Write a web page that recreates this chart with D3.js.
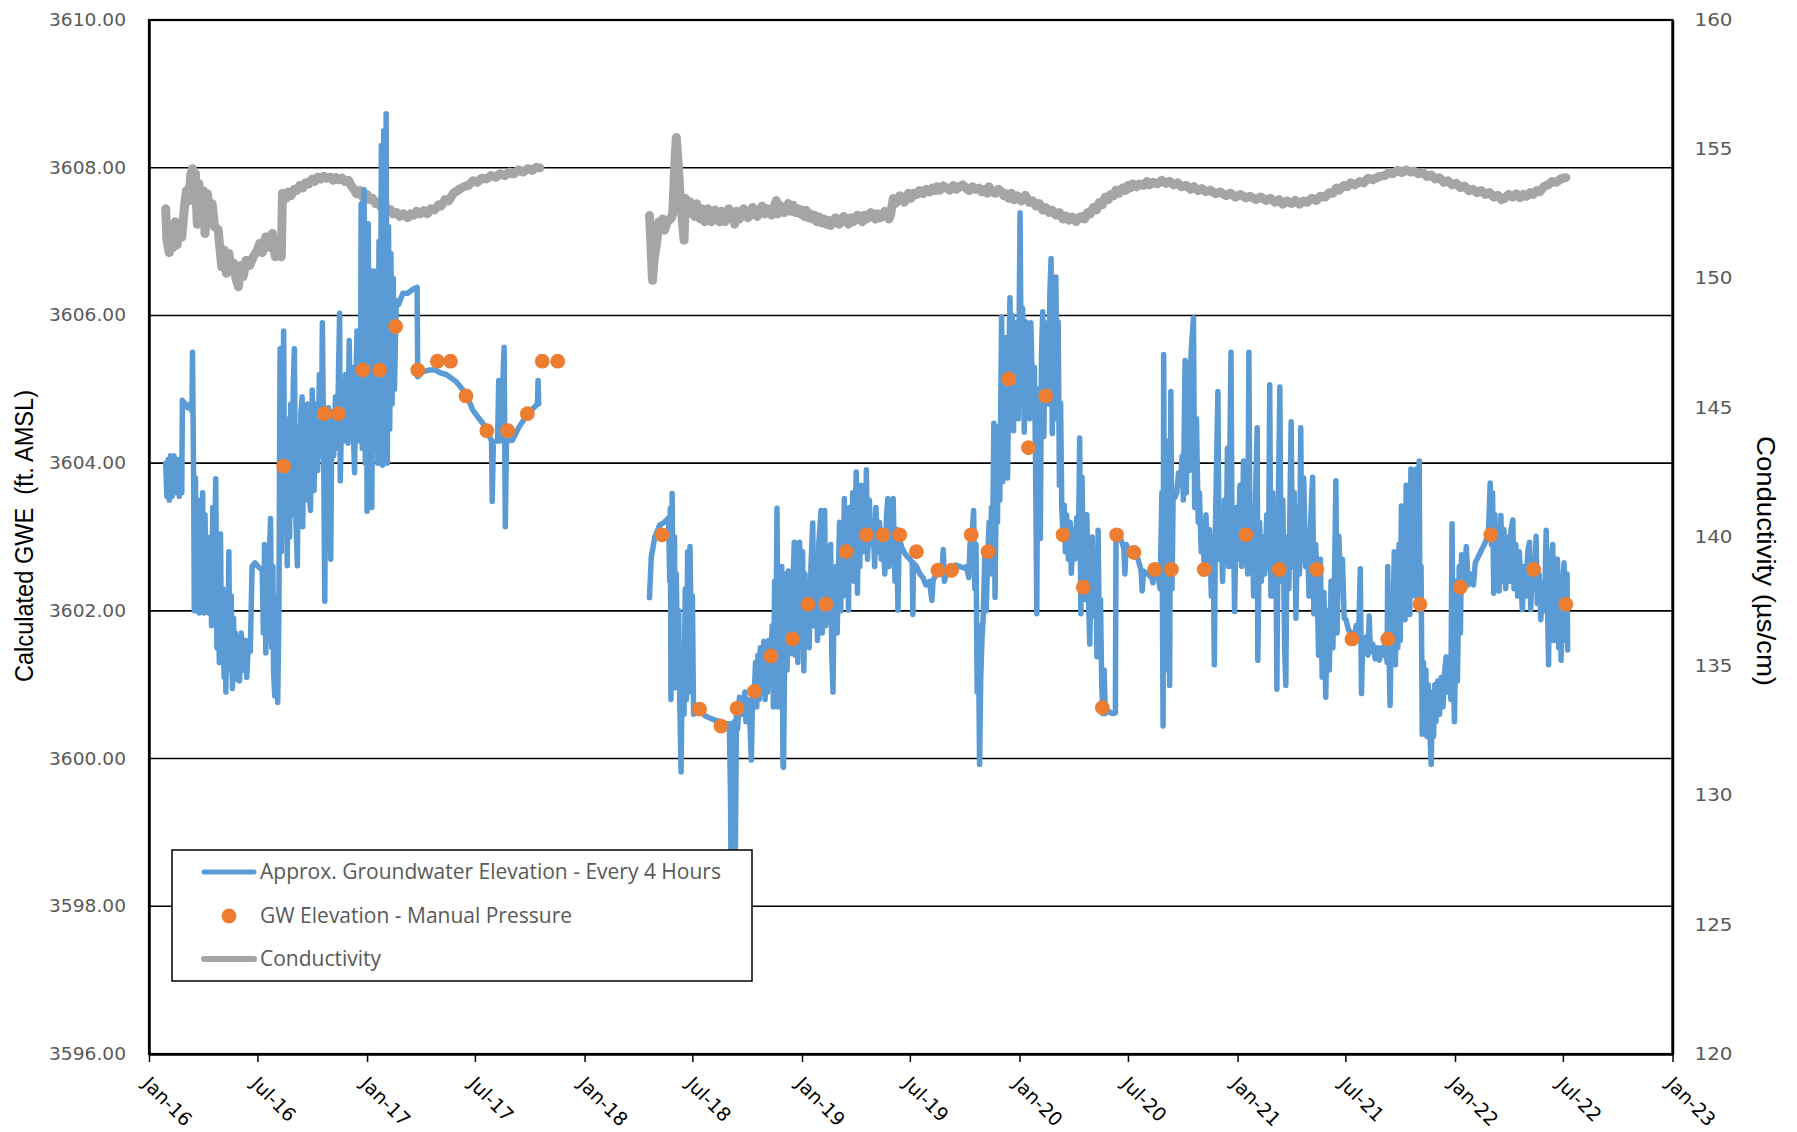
<!DOCTYPE html>
<html><head><meta charset="utf-8">
<script src="https://cdn.jsdelivr.net/npm/d3@7"></script>
<style>body{margin:0;background:#fff;} svg{display:block;}</style>
</head><body><svg id="chart" width="1797" height="1132"></svg>
<script>
// ---------- DATA ----------
const xTickLabels = ["Jan-16","Jul-16","Jan-17","Jul-17","Jan-18","Jul-18","Jan-19","Jul-19","Jan-20","Jul-20","Jan-21","Jul-21","Jan-22","Jul-22","Jan-23"];
const xTickDates = ["2016-01-01","2016-07-01","2017-01-01","2017-07-01","2018-01-01","2018-07-01","2019-01-01","2019-07-01","2020-01-01","2020-07-01","2021-01-01","2021-07-01","2022-01-01","2022-07-01","2023-01-01"];
const leftTicks = [3596,3598,3600,3602,3604,3606,3608,3610];
const rightTicks = [120,125,130,135,140,145,150,155,160];
const seriesNames = ["Approx. Groundwater Elevation - Every 4 Hours","GW Elevation - Manual Pressure","Conductivity"];

// Approx. Groundwater Elevation (ft AMSL), logger record, first deployment
const gweBlock1 = [
["2016-01-29",3604.0],["2016-01-31",3603.55],["2016-02-02",3604.05],["2016-02-04",3603.5],["2016-02-06",3604.1],["2016-02-09",3603.55],["2016-02-12",3604.1],["2016-02-15",3603.6],["2016-02-18",3604.05],["2016-02-21",3603.55],["2016-02-24",3604.0],["2016-02-25",3603.6],
["2016-02-26",3604.85],["2016-03-02",3604.8],["2016-03-06",3604.75],["2016-03-10",3604.8],["2016-03-13",3604.7],["2016-03-14",3605.5],["2016-03-16",3603.7],["2016-03-17",3602.0],
["2016-03-19",3603.8],["2016-03-21",3602.2],["2016-03-23",3603.5],["2016-03-25",3601.97],["2016-03-27",3603.3],["2016-03-29",3602.0],["2016-03-31",3603.6],["2016-04-02",3601.97],["2016-04-04",3603.3],["2016-04-06",3602.1],["2016-04-08",3602.9],["2016-04-10",3601.97],["2016-04-13",3603.0],["2016-04-15",3601.8],["2016-04-17",3603.4],["2016-04-19",3602.2],["2016-04-22",3603.79],["2016-04-24",3601.5],["2016-04-26",3602.5],["2016-04-28",3601.3],
["2016-04-30",3603.04],["2016-05-02",3601.3],["2016-05-04",3602.3],["2016-05-06",3601.1],["2016-05-08",3602.0],["2016-05-09",3600.9],["2016-05-11",3602.2],["2016-05-12",3601.2],["2016-05-14",3602.8],["2016-05-16",3601.2],["2016-05-18",3602.2],["2016-05-20",3600.95],["2016-05-22",3601.9],["2016-05-23",3601.06],
["2016-05-25",3601.7],["2016-05-27",3601.1],["2016-05-29",3601.65],["2016-06-01",3601.05],["2016-06-04",3601.7],["2016-06-07",3601.2],["2016-06-10",3601.6],["2016-06-13",3601.1],["2016-06-16",3601.6],["2016-06-19",3601.45],
["2016-06-22",3602.6],["2016-06-27",3602.65],["2016-07-02",3602.6],["2016-07-09",3602.55],["2016-07-11",3601.7],["2016-07-13",3602.9],["2016-07-15",3601.43],["2016-07-17",3602.5],["2016-07-19",3601.6],["2016-07-21",3602.7],["2016-07-23",3603.25],["2016-07-25",3601.5],["2016-07-27",3602.6],["2016-07-28",3601.2],["2016-07-30",3600.85],["2016-08-01",3602.2],["2016-08-03",3601.0],["2016-08-04",3600.76],["2016-08-06",3602.0],
["2016-08-08",3605.55],["2016-08-10",3602.8],["2016-08-12",3604.4],["2016-08-14",3605.79],["2016-08-16",3603.2],["2016-08-18",3604.6],["2016-08-20",3602.61],["2016-08-22",3604.3],["2016-08-24",3603.0],["2016-08-26",3604.8],["2016-08-28",3603.3],["2016-08-30",3605.0],["2016-09-01",3605.55],["2016-09-03",3603.4],["2016-09-06",3602.61],["2016-09-08",3604.5],["2016-09-10",3603.2],["2016-09-12",3604.7],["2016-09-14",3604.9],["2016-09-15",3603.14],["2016-09-17",3604.6],["2016-09-20",3603.5],["2016-09-23",3604.8],["2016-09-26",3603.6],["2016-09-28",3603.36],["2016-10-01",3604.99],["2016-10-04",3603.63],["2016-10-07",3604.8],["2016-10-10",3603.9],["2016-10-13",3605.2],["2016-10-16",3604.1],["2016-10-18",3605.9],["2016-10-20",3604.3],["2016-10-22",3602.13],["2016-10-24",3604.6],["2016-10-26",3604.05],["2016-10-28",3604.75],["2016-10-30",3604.1],["2016-11-01",3602.7],["2016-11-03",3604.7],["2016-11-06",3604.1],["2016-11-09",3604.9],["2016-11-12",3604.2],["2016-11-14",3605.2],["2016-11-16",3606.03],["2016-11-17",3603.76],["2016-11-20",3604.9],["2016-11-23",3604.3],["2016-11-26",3605.2],["2016-11-30",3604.27],["2016-12-02",3605.66],["2016-12-04",3604.5],["2016-12-07",3605.3],["2016-12-09",3604.4],["2016-12-11",3603.87],["2016-12-13",3605.0],["2016-12-15",3605.79],["2016-12-17",3604.3],["2016-12-19",3605.2],["2016-12-21",3604.6],
["2016-12-22",3607.51],["2016-12-24",3604.2],["2016-12-26",3606.3],["2016-12-27",3607.7],["2016-12-29",3604.0],["2016-12-31",3606.8],["2017-01-01",3603.35],["2017-01-03",3607.24],["2017-01-05",3603.7],["2017-01-07",3606.0],["2017-01-09",3603.4],["2017-01-11",3606.6],["2017-01-13",3604.2],["2017-01-15",3605.6],["2017-01-17",3606.6],["2017-01-19",3604.0],["2017-01-21",3607.0],["2017-01-23",3604.3],["2017-01-25",3608.3],["2017-01-27",3603.97],["2017-01-29",3608.5],["2017-01-31",3604.5],["2017-02-02",3608.73],["2017-02-04",3604.0],["2017-02-06",3607.2],["2017-02-08",3604.46],["2017-02-10",3606.84],["2017-02-12",3604.8],["2017-02-14",3606.5],["2017-02-16",3605.0],["2017-02-19",3606.2],
["2017-02-23",3606.15],["2017-03-02",3606.3],["2017-03-10",3606.3],["2017-03-18",3606.35],["2017-03-26",3606.38],["2017-03-27",3605.17],
["2017-04-05",3605.24],["2017-04-15",3605.26],["2017-04-25",3605.26],["2017-05-05",3605.22],["2017-05-14",3605.2],["2017-05-31",3605.1],["2017-06-16",3604.94],["2017-06-28",3604.71],["2017-07-15",3604.53],["2017-07-26",3604.35],["2017-07-29",3604.3],["2017-07-30",3603.48],["2017-08-01",3604.29],["2017-08-08",3604.3],["2017-08-10",3605.12],["2017-08-12",3604.3],["2017-08-16",3604.9],["2017-08-19",3605.57],["2017-08-21",3603.14],["2017-08-23",3604.3],["2017-09-02",3604.31],["2017-09-13",3604.49],["2017-09-28",3604.67],["2017-10-14",3604.8],["2017-10-15",3605.12],["2017-10-16",3604.8]
];

// Approx. Groundwater Elevation (ft AMSL), logger record, second deployment
const gweBlock2 = [
["2018-04-20",3602.18],["2018-04-23",3602.73],["2018-04-29",3603.0],["2018-05-07",3603.16],["2018-05-15",3603.2],["2018-05-22",3603.26],["2018-05-24",3602.4],["2018-05-25",3603.39],["2018-05-26",3600.8],["2018-05-28",3603.59],["2018-05-30",3601.5],["2018-06-01",3603.0],["2018-06-02",3600.96],["2018-06-04",3602.5],["2018-06-06",3601.3],["2018-06-08",3602.0],["2018-06-10",3600.7],["2018-06-12",3599.82],["2018-06-14",3601.2],["2018-06-17",3600.6],["2018-06-19",3602.3],["2018-06-21",3600.8],["2018-06-23",3602.8],["2018-06-25",3600.9],["2018-06-27",3602.87],["2018-06-29",3601.69],["2018-07-01",3602.2],["2018-07-03",3600.6],["2018-07-05",3600.7],
["2018-07-13",3600.67],["2018-07-22",3600.58],["2018-07-30",3600.55],["2018-08-08",3600.52],["2018-08-18",3600.5],["2018-08-26",3600.47],["2018-09-01",3600.47],["2018-09-03",3599.5],["2018-09-04",3598.3],["2018-09-06",3600.2],["2018-09-07",3598.4],["2018-09-09",3600.5],["2018-09-11",3598.6],["2018-09-13",3600.68],["2018-09-15",3600.4],["2018-09-18",3600.83],["2018-09-22",3600.6],["2018-09-25",3600.7],["2018-09-27",3600.9],["2018-09-29",3600.5],["2018-10-02",3600.8],["2018-10-05",3600.6],["2018-10-08",3599.98],["2018-10-10",3600.9],["2018-10-13",3600.91],["2018-10-15",3601.3],["2018-10-17",3600.7],["2018-10-19",3601.4],["2018-10-21",3600.8],["2018-10-23",3601.5],["2018-10-25",3600.9],["2018-10-27",3601.3],["2018-10-29",3601.59],["2018-10-31",3600.8],["2018-11-02",3601.5],["2018-11-04",3600.9],["2018-11-06",3601.6],["2018-11-08",3601.0],["2018-11-10",3601.39],["2018-11-12",3601.8],["2018-11-14",3600.7],["2018-11-16",3602.4],["2018-11-18",3601.1],["2018-11-20",3603.39],["2018-11-22",3600.7],["2018-11-24",3602.0],["2018-11-26",3601.2],["2018-11-28",3602.6],["2018-11-30",3599.9],["2018-12-01",3599.88],["2018-12-03",3601.5],["2018-12-05",3602.5],["2018-12-07",3601.2],["2018-12-09",3602.54],["2018-12-11",3601.5],["2018-12-13",3602.2],["2018-12-15",3601.42],["2018-12-17",3602.4],["2018-12-19",3602.93],["2018-12-21",3601.4],["2018-12-23",3602.6],["2018-12-25",3601.3],["2018-12-28",3602.93],["2018-12-30",3601.6],
["2019-01-02",3602.8],["2019-01-04",3601.19],["2019-01-06",3602.5],["2019-01-08",3601.7],["2019-01-11",3602.3],["2019-01-13",3601.5],["2019-01-16",3602.6],["2019-01-19",3603.19],["2019-01-21",3601.8],["2019-01-24",3602.8],["2019-01-27",3601.6],["2019-01-29",3602.9],["2019-02-02",3603.36],["2019-02-04",3601.7],["2019-02-06",3602.4],["2019-02-08",3603.36],["2019-02-10",3601.8],["2019-02-13",3602.5],["2019-02-16",3602.0],["2019-02-18",3602.9],["2019-02-20",3601.4],["2019-02-22",3600.9],["2019-02-24",3602.3],["2019-02-27",3602.6],["2019-03-01",3601.7],["2019-03-05",3603.2],["2019-03-07",3602.0],["2019-03-09",3603.0],["2019-03-11",3602.2],["2019-03-13",3603.52],["2019-03-15",3602.3],["2019-03-18",3603.3],["2019-03-20",3602.01],["2019-03-22",3603.4],["2019-03-25",3602.5],["2019-03-27",3603.6],["2019-03-29",3602.4],["2019-04-02",3603.88],["2019-04-04",3602.24],["2019-04-06",3603.5],["2019-04-08",3602.6],["2019-04-10",3603.7],["2019-04-13",3602.8],["2019-04-15",3603.6],["2019-04-17",3602.9],["2019-04-19",3603.91],["2019-04-21",3602.7],["2019-04-24",3603.5],["2019-04-27",3602.9],["2019-04-30",3603.2],["2019-05-03",3602.6],["2019-05-05",3603.4],["2019-05-08",3602.8],["2019-05-11",3603.2],["2019-05-14",3602.7],["2019-05-17",3603.0],["2019-05-20",3602.5],["2019-05-23",3603.3],["2019-05-25",3603.52],["2019-05-27",3602.6],["2019-05-30",3603.2],["2019-06-01",3602.7],["2019-06-03",3603.52],["2019-06-06",3602.4],["2019-06-09",3603.1],["2019-06-11",3602.01],["2019-06-13",3603.0],
["2019-06-17",3602.87],["2019-06-21",3602.8],["2019-06-25",3602.75],["2019-07-01",3602.7],["2019-07-05",3602.65],["2019-07-06",3601.95],["2019-07-07",3602.65],["2019-07-12",3602.6],["2019-07-18",3602.5],["2019-07-23",3602.45],["2019-07-28",3602.35],["2019-08-03",3602.4],["2019-08-07",3602.14],["2019-08-09",3602.41],["2019-08-14",3602.5],["2019-08-20",3602.55],["2019-08-24",3602.5],["2019-08-26",3602.83],["2019-08-28",3602.4],["2019-09-02",3602.55],["2019-09-09",3602.6],["2019-09-16",3602.62],["2019-09-23",3602.6],["2019-09-30",3602.58],["2019-10-04",3602.6],["2019-10-08",3602.45],["2019-10-10",3602.9],["2019-10-14",3603.1],["2019-10-16",3603.36],["2019-10-18",3602.3],["2019-10-20",3602.9],["2019-10-22",3600.9],["2019-10-24",3601.8],["2019-10-26",3599.92],["2019-10-28",3601.1],["2019-10-30",3601.62],["2019-11-01",3601.9],["2019-11-04",3602.8],["2019-11-06",3602.0],["2019-11-09",3602.8],["2019-11-11",3603.2],["2019-11-13",3602.5],["2019-11-15",3603.4],["2019-11-17",3603.0],["2019-11-19",3604.54],["2019-11-21",3602.18],["2019-11-23",3603.8],["2019-11-25",3603.2],["2019-11-27",3604.5],["2019-11-29",3603.5],
["2019-12-02",3605.98],["2019-12-04",3603.75],["2019-12-06",3605.0],["2019-12-08",3604.0],["2019-12-10",3605.7],["2019-12-12",3603.8],["2019-12-14",3605.2],["2019-12-16",3606.24],["2019-12-18",3604.87],["2019-12-20",3606.0],["2019-12-22",3604.44],["2019-12-24",3605.9],["2019-12-26",3604.9],["2019-12-28",3605.8],["2019-12-30",3604.6],["2020-01-02",3607.39],["2020-01-04",3605.0],["2020-01-06",3606.1],["2020-01-07",3605.9],["2020-01-09",3604.42],["2020-01-12",3605.91],["2020-01-14",3605.08],["2020-01-16",3605.8],["2020-01-18",3604.6],["2020-01-20",3605.9],["2020-01-23",3604.9],["2020-01-26",3605.3],["2020-01-28",3604.0],["2020-01-30",3601.96],["2020-02-01",3605.0],["2020-02-03",3604.4],["2020-02-05",3602.98],["2020-02-07",3605.5],["2020-02-09",3606.05],["2020-02-11",3604.36],["2020-02-13",3605.9],["2020-02-15",3604.9],["2020-02-17",3605.6],["2020-02-19",3604.8],["2020-02-21",3606.3],["2020-02-23",3606.77],["2020-02-25",3604.4],["2020-02-27",3605.8],["2020-02-29",3604.6],["2020-03-02",3606.52],["2020-03-04",3604.9],["2020-03-06",3605.91],["2020-03-08",3603.7],["2020-03-10",3604.81],["2020-03-12",3603.4],
["2020-03-14",3603.0],["2020-03-16",3603.43],["2020-03-18",3602.8],["2020-03-20",3603.3],["2020-03-23",3602.7],["2020-03-26",3603.2],["2020-03-28",3602.51],["2020-03-31",3603.1],["2020-04-03",3602.7],["2020-04-06",3603.26],["2020-04-09",3602.9],["2020-04-11",3604.34],["2020-04-13",3601.96],["2020-04-15",3603.81],["2020-04-17",3602.7],["2020-04-19",3603.0],["2020-04-21",3602.15],["2020-04-23",3603.3],["2020-04-25",3602.4],["2020-04-28",3601.55],["2020-04-30",3602.5],["2020-05-02",3603.0],["2020-05-05",3601.93],["2020-05-08",3602.71],["2020-05-10",3601.38],["2020-05-12",3603.09],["2020-05-14",3601.6],["2020-05-16",3602.15],["2020-05-18",3601.0],["2020-05-20",3600.61],["2020-05-22",3601.2],["2020-05-24",3600.61],["2020-05-28",3600.65],["2020-06-02",3600.62],["2020-06-06",3600.61],["2020-06-10",3600.62],
["2020-06-11",3603.04],["2020-06-15",3603.0],["2020-06-20",3602.95],["2020-06-24",3602.85],["2020-06-26",3602.5],["2020-06-28",3602.9],["2020-07-03",3602.8],["2020-07-11",3602.76],["2020-07-18",3602.7],["2020-07-23",3602.55],["2020-07-25",3602.27],["2020-07-27",3602.54],["2020-08-03",3602.5],["2020-08-10",3602.45],["2020-08-12",3602.38],["2020-08-15",3602.55],["2020-08-20",3602.5],["2020-08-24",3602.3],["2020-08-27",3603.6],["2020-08-29",3600.44],["2020-08-30",3605.47],["2020-09-01",3601.5],["2020-09-03",3604.3],["2020-09-05",3601.2],["2020-09-07",3603.6],["2020-09-09",3600.99],["2020-09-11",3604.97],["2020-09-13",3602.3],["2020-09-15",3603.6],["2020-09-18",3603.54],["2020-09-21",3603.6],["2020-09-24",3603.87],["2020-09-27",3603.7],["2020-09-30",3604.1],["2020-10-02",3603.5],["2020-10-05",3605.39],["2020-10-07",3603.6],["2020-10-09",3605.36],["2020-10-12",3603.9],["2020-10-15",3605.5],["2020-10-19",3605.97],["2020-10-21",3603.4],["2020-10-24",3604.6],["2020-10-27",3603.2],["2020-10-29",3603.6],["2020-11-01",3602.8],["2020-11-04",3603.2],["2020-11-06",3602.56],["2020-11-09",3603.3],["2020-11-12",3602.6],["2020-11-15",3603.1],["2020-11-18",3602.2],["2020-11-21",3603.0],["2020-11-23",3601.27],["2020-11-25",3603.2],["2020-11-29",3604.97],["2020-12-01",3602.7],["2020-12-04",3603.1],["2020-12-07",3602.4],["2020-12-10",3603.5],["2020-12-13",3602.8],["2020-12-15",3604.2],["2020-12-17",3602.6],["2020-12-21",3605.5],["2020-12-23",3602.6],["2020-12-25",3603.3],["2020-12-27",3601.99],["2020-12-30",3603.4],
["2021-01-02",3602.7],["2021-01-05",3603.7],["2021-01-08",3602.6],["2021-01-11",3604.03],["2021-01-13",3602.8],["2021-01-15",3603.1],["2021-01-18",3602.5],["2021-01-20",3605.5],["2021-01-22",3602.6],["2021-01-25",3603.4],["2021-01-28",3602.2],["2021-01-31",3603.5],["2021-02-03",3604.48],["2021-02-04",3601.33],["2021-02-07",3603.2],["2021-02-10",3602.4],["2021-02-13",3603.0],["2021-02-16",3602.5],["2021-02-19",3603.3],["2021-02-22",3602.6],["2021-02-24",3605.06],["2021-02-26",3602.2],["2021-03-01",3603.6],["2021-03-04",3602.2],["2021-03-06",3603.4],["2021-03-08",3600.94],["2021-03-10",3603.2],["2021-03-13",3605.03],["2021-03-15",3602.4],["2021-03-18",3603.5],["2021-03-21",3601.5],["2021-03-23",3600.99],["2021-03-25",3603.0],["2021-03-28",3602.3],["2021-04-01",3604.56],["2021-04-03",3602.6],["2021-04-06",3603.6],["2021-04-09",3601.9],["2021-04-12",3603.4],["2021-04-15",3602.5],["2021-04-17",3604.48],["2021-04-19",3602.7],["2021-04-22",3603.8],["2021-04-25",3602.6],["2021-04-28",3603.1],["2021-05-01",3602.2],["2021-05-04",3603.3],["2021-05-07",3603.81],["2021-05-09",3601.96],["2021-05-12",3602.9],["2021-05-14",3602.56],["2021-05-17",3601.4],["2021-05-20",3602.7],["2021-05-23",3601.1],["2021-05-26",3602.25],["2021-05-29",3600.83],["2021-06-01",3602.0],["2021-06-04",3601.2],["2021-06-07",3602.4],["2021-06-10",3601.5],["2021-06-13",3602.6],["2021-06-15",3603.76],["2021-06-17",3601.7],["2021-06-20",3603.01],["2021-06-23",3602.3],["2021-06-26",3602.7],["2021-06-29",3601.9],["2021-07-02",3601.88],["2021-07-06",3601.75],["2021-07-09",3601.71],["2021-07-12",3601.7],["2021-07-15",3601.6],["2021-07-19",3601.8],["2021-07-23",3601.6],["2021-07-26",3602.57],["2021-07-28",3600.88],["2021-07-30",3601.6],
["2021-08-02",3601.5],["2021-08-05",3601.65],["2021-08-08",3601.4],["2021-08-10",3601.93],["2021-08-12",3601.45],["2021-08-16",3601.55],["2021-08-20",3601.35],["2021-08-24",3601.5],["2021-08-27",3601.33],["2021-08-31",3601.5],["2021-09-03",3601.4],["2021-09-06",3601.6],["2021-09-09",3601.3],["2021-09-10",3602.6],["2021-09-12",3601.5],["2021-09-14",3600.72],["2021-09-16",3601.8],["2021-09-18",3601.3],["2021-09-21",3602.8],["2021-09-23",3601.27],["2021-09-25",3602.4],["2021-09-27",3601.5],["2021-09-29",3602.9],["2021-10-01",3601.6],["2021-10-03",3603.42],["2021-10-05",3601.9],["2021-10-07",3603.2],["2021-10-09",3601.88],["2021-10-11",3603.7],["2021-10-13",3602.2],["2021-10-15",3603.5],["2021-10-17",3601.95],["2021-10-19",3603.92],["2021-10-21",3602.4],["2021-10-23",3603.8],["2021-10-25",3602.2],["2021-10-28",3603.92],["2021-10-30",3602.5],["2021-11-02",3604.03],["2021-11-03",3602.0],["2021-11-05",3602.6],["2021-11-07",3600.33],["2021-11-09",3601.3],["2021-11-11",3600.45],["2021-11-13",3601.2],["2021-11-15",3600.3],["2021-11-17",3601.0],["2021-11-19",3600.5],["2021-11-22",3599.92],["2021-11-24",3600.9],["2021-11-26",3600.3],["2021-11-28",3601.0],["2021-11-30",3600.5],["2021-12-03",3601.05],["2021-12-06",3600.6],["2021-12-09",3601.1],["2021-12-12",3600.7],["2021-12-15",3601.2],["2021-12-17",3601.38],["2021-12-20",3600.9],["2021-12-23",3601.3],["2021-12-25",3600.8],["2021-12-27",3603.18],["2021-12-29",3601.2],["2021-12-31",3600.5],
["2022-01-02",3601.5],["2022-01-04",3602.4],["2022-01-05",3601.05],["2022-01-08",3602.6],["2022-01-10",3601.7],["2022-01-12",3602.76],["2022-01-14",3602.3],["2022-01-17",3602.5],["2022-01-20",3602.87],["2022-01-23",3602.35],["2022-01-27",3602.5],["2022-02-01",3602.35],["2022-02-04",3602.65],["2022-02-10",3602.75],["2022-02-16",3602.85],["2022-02-21",3602.93],["2022-02-26",3603.04],["2022-03-01",3603.73],["2022-03-03",3602.9],["2022-03-05",3603.6],["2022-03-07",3602.24],["2022-03-09",3603.3],["2022-03-11",3602.5],["2022-03-14",3603.1],["2022-03-16",3602.27],["2022-03-19",3603.29],["2022-03-21",3602.4],["2022-03-24",3603.1],["2022-03-27",3602.3],["2022-03-30",3603.0],["2022-04-02",3602.4],["2022-04-05",3603.1],["2022-04-08",3603.23],["2022-04-10",3602.3],["2022-04-13",3602.9],["2022-04-16",3602.2],["2022-04-19",3602.8],["2022-04-22",3602.3],["2022-04-24",3602.02],["2022-04-27",3602.6],["2022-04-30",3602.2],["2022-05-03",3602.8],["2022-05-06",3602.93],["2022-05-08",3602.02],["2022-05-11",3602.7],["2022-05-14",3602.3],["2022-05-17",3603.01],["2022-05-19",3602.1],["2022-05-22",3602.5],["2022-05-25",3601.88],["2022-05-28",3602.38],["2022-05-31",3602.0],["2022-06-03",3603.09],["2022-06-05",3602.2],["2022-06-07",3601.27],["2022-06-09",3602.8],["2022-06-11",3601.9],["2022-06-14",3602.9],["2022-06-16",3601.6],["2022-06-19",3602.6],["2022-06-22",3602.7],["2022-06-24",3601.5],["2022-06-27",3602.4],["2022-06-28",3601.33],["2022-06-30",3602.3],["2022-07-03",3602.65],["2022-07-06",3601.6],["2022-07-08",3602.5],["2022-07-09",3601.47]
];

// GW Elevation - Manual Pressure (ft AMSL)
const manualDates = ["2016-08-14","2016-10-21","2016-11-14","2016-12-25","2017-01-22","2017-02-18","2017-03-27","2017-04-29","2017-05-21","2017-06-16","2017-07-21","2017-08-25","2017-09-27","2017-10-22","2017-11-17",
"2018-05-11","2018-07-13","2018-08-18","2018-09-14","2018-10-13","2018-11-10","2018-12-16","2019-01-11","2019-02-10","2019-03-16","2019-04-19","2019-05-17","2019-06-14","2019-07-12","2019-08-17","2019-09-09","2019-10-12","2019-11-09","2019-12-14","2020-01-16","2020-02-14","2020-03-14","2020-04-17","2020-05-19","2020-06-12","2020-07-11","2020-08-15","2020-09-12","2020-11-06","2021-01-15","2021-03-12","2021-05-14","2021-07-12","2021-09-10","2021-11-03","2022-01-10","2022-03-02","2022-05-13","2022-07-06"];
const manualValues = [3603.96,3604.67,3604.67,3605.26,3605.26,3605.85,3605.26,3605.38,3605.38,3604.91,3604.44,3604.44,3604.67,3605.38,3605.38,
3603.03,3600.67,3600.44,3600.68,3600.91,3601.39,3601.62,3602.09,3602.09,3602.80,3603.03,3603.03,3603.03,3602.80,3602.55,3602.55,3603.03,3602.80,3605.14,3604.21,3604.91,3603.03,3602.32,3600.69,3603.03,3602.79,3602.56,3602.56,3602.56,3603.03,3602.56,3602.56,3601.62,3601.62,3602.09,3602.32,3603.03,3602.56,3602.09];

// Conductivity (µS/cm), first deployment
const condBlock1 = [
["2016-01-29",152.7],["2016-01-31",151.5],["2016-02-04",151.0],["2016-02-07",151.9],["2016-02-10",151.2],["2016-02-14",152.2],["2016-02-17",151.3],["2016-02-21",152.0],["2016-02-25",151.6],["2016-03-01",152.9],["2016-03-04",153.4],["2016-03-08",153.0],["2016-03-11",154.0],["2016-03-14",154.25],["2016-03-17",153.2],["2016-03-19",154.05],["2016-03-22",152.1],["2016-03-25",153.66],["2016-03-28",152.5],["2016-04-01",153.4],["2016-04-04",151.74],["2016-04-08",153.28],["2016-04-12",152.3],["2016-04-16",152.89],["2016-04-20",152.0],["2016-04-26",151.9],["2016-05-02",150.45],["2016-05-06",151.1],["2016-05-10",150.2],["2016-05-14",150.97],["2016-05-18",150.3],["2016-05-22",150.6],["2016-05-26",150.0],["2016-05-30",149.68],["2016-06-03",150.5],["2016-06-07",150.07],["2016-06-12",150.71],["2016-06-18",150.5],["2016-06-24",150.84],["2016-07-01",151.1],["2016-07-05",151.36],["2016-07-09",151.0],["2016-07-15",151.61],["2016-07-21",151.2],["2016-07-26",151.74],["2016-07-31",150.84],["2016-08-06",151.2],["2016-08-10",150.84],["2016-08-12",153.3],["2016-08-18",153.1],["2016-08-22",153.35],["2016-08-26",153.2],["2016-09-01",153.45],["2016-09-05",153.4],["2016-09-10",153.6],["2016-09-15",153.5],["2016-09-20",153.7],["2016-09-25",153.65],["2016-10-01",153.85],["2016-10-05",153.75],["2016-10-10",153.92],["2016-10-15",153.85],["2016-10-20",153.95],["2016-10-25",153.88],["2016-11-01",153.92],["2016-11-05",153.8],["2016-11-10",153.9],["2016-11-15",153.82],["2016-11-20",153.88],["2016-11-25",153.75],["2016-12-01",153.8],["2016-12-05",153.6],["2016-12-10",153.45],["2016-12-14",153.28],["2016-12-20",153.4],["2016-12-26",153.1],["2017-01-01",153.25],["2017-01-05",153.05],["2017-01-10",153.1],["2017-01-15",152.9],["2017-01-20",152.95],["2017-01-25",152.75],["2017-02-01",152.8],["2017-02-05",152.6],["2017-02-10",152.65],["2017-02-14",152.5],["2017-02-20",152.55],["2017-02-25",152.4],["2017-03-03",152.5],["2017-03-10",152.35],["2017-03-15",152.5],["2017-03-20",152.45],["2017-03-25",152.6],["2017-03-31",152.5],["2017-04-06",152.62],["2017-04-12",152.5],["2017-04-18",152.7],["2017-04-24",152.65],["2017-05-01",152.85],["2017-05-05",152.8],["2017-05-12",153.05],["2017-05-18",153.0],["2017-05-26",153.3],["2017-06-05",153.45],["2017-06-12",153.55],["2017-06-20",153.6],["2017-06-28",153.78],["2017-07-05",153.72],["2017-07-12",153.88],["2017-07-20",153.85],["2017-07-28",153.98],["2017-08-05",153.92],["2017-08-12",154.05],["2017-08-20",153.98],["2017-08-28",154.12],["2017-09-05",154.05],["2017-09-12",154.2],["2017-09-20",154.12],["2017-09-28",154.25],["2017-10-05",154.18],["2017-10-12",154.3],["2017-10-18",154.28]
];

// Conductivity (µS/cm), second deployment
const condBlock2 = [
["2018-04-20",152.44],["2018-04-22",151.6],["2018-04-25",149.93],["2018-04-28",150.8],["2018-05-01",151.22],["2018-05-03",151.6],["2018-05-06",152.19],["2018-05-09",151.9],["2018-05-12",152.3],["2018-05-15",151.87],["2018-05-20",152.2],["2018-05-26",152.32],["2018-05-29",152.5],["2018-06-01",154.19],["2018-06-04",155.45],["2018-06-07",154.5],["2018-06-10",153.35],["2018-06-14",152.3],["2018-06-17",151.48],["2018-06-19",153.09],["2018-06-23",152.6],["2018-06-27",152.96],["2018-06-30",152.5],["2018-07-02",152.7],["2018-07-05",152.4],["2018-07-08",152.89],["2018-07-11",152.5],["2018-07-14",152.3],["2018-07-17",152.7],["2018-07-20",152.6],["2018-07-22",152.2],["2018-07-24",152.38],["2018-07-27",152.7],["2018-07-30",152.5],["2018-08-02",152.2],["2018-08-05",152.3],["2018-08-08",152.65],["2018-08-10",152.6],["2018-08-13",152.25],["2018-08-16",152.19],["2018-08-19",152.6],["2018-08-22",152.5],["2018-08-25",152.2],["2018-08-28",152.4],["2018-08-31",152.7],["2018-09-03",152.6],["2018-09-05",152.3],["2018-09-07",152.38],["2018-09-10",152.1],["2018-09-13",152.6],["2018-09-15",152.55],["2018-09-18",152.3],["2018-09-22",152.5],["2018-09-25",152.7],["2018-09-29",152.57],["2018-10-02",152.35],["2018-10-06",152.45],["2018-10-10",152.75],["2018-10-14",152.6],["2018-10-18",152.4],["2018-10-22",152.64],["2018-10-26",152.8],["2018-10-30",152.5],["2018-11-03",152.7],["2018-11-07",152.6],["2018-11-11",152.45],["2018-11-15",152.75],["2018-11-19",153.02],["2018-11-21",152.5],["2018-11-24",152.85],["2018-11-28",152.7],["2018-12-02",152.55],["2018-12-06",152.75],["2018-12-09",152.9],["2018-12-12",152.6],["2018-12-17",152.83],["2018-12-21",152.55],["2018-12-25",152.7],["2018-12-29",152.5],["2019-01-01",152.65],["2019-01-05",152.4],["2019-01-08",152.64],["2019-01-12",152.35],["2019-01-15",152.5],["2019-01-19",152.3],["2019-01-22",152.45],["2019-01-26",152.2],["2019-01-30",152.38],["2019-02-03",152.15],["2019-02-07",152.3],["2019-02-11",152.1],["2019-02-14",152.25],["2019-02-18",152.05],["2019-02-22",152.19],["2019-02-26",152.35],["2019-03-01",152.3],["2019-03-04",152.1],["2019-03-08",152.2],["2019-03-12",152.4],["2019-03-16",152.25],["2019-03-20",152.1],["2019-03-24",152.35],["2019-03-28",152.2],["2019-04-01",152.3],["2019-04-04",152.45],["2019-04-08",152.38],["2019-04-12",152.2],["2019-04-16",152.45],["2019-04-19",152.3],["2019-04-22",152.35],["2019-04-26",152.55],["2019-04-30",152.51],["2019-05-04",152.3],["2019-05-08",152.5],["2019-05-12",152.35],["2019-05-16",152.4],["2019-05-20",152.6],["2019-05-23",152.44],["2019-05-27",152.3],["2019-05-30",152.5],["2019-06-03",153.09],["2019-06-07",152.9],["2019-06-10",153.0],["2019-06-14",153.2],["2019-06-18",153.15],["2019-06-22",152.95],["2019-06-25",153.15],["2019-06-29",153.3],["2019-07-03",153.1],["2019-07-08",153.3],["2019-07-12",153.25],["2019-07-17",153.4],["2019-07-23",153.28],["2019-07-28",153.45],["2019-08-03",153.35],["2019-08-08",153.5],["2019-08-12",153.4],["2019-08-16",153.55],["2019-08-20",153.41],["2019-08-26",153.58],["2019-09-01",153.5],["2019-09-06",153.42],["2019-09-12",153.6],["2019-09-17",153.45],["2019-09-22",153.54],["2019-09-28",153.62],["2019-10-03",153.5],["2019-10-09",153.4],["2019-10-14",153.55],["2019-10-20",153.45],["2019-10-25",153.5],["2019-10-30",153.35],["2019-11-04",153.45],["2019-11-08",153.3],["2019-11-11",153.55],["2019-11-16",153.35],["2019-11-22",153.3],["2019-11-27",153.45],["2019-12-02",153.35],["2019-12-06",153.2],["2019-12-09",153.28],["2019-12-14",153.1],["2019-12-18",153.3],["2019-12-23",153.05],["2019-12-28",153.2],["2020-01-04",153.0],["2020-01-11",153.22],["2020-01-17",152.95],["2020-01-23",153.0],["2020-01-29",152.8],["2020-02-03",152.9],["2020-02-09",152.65],["2020-02-14",152.75],["2020-02-20",152.55],["2020-02-25",152.64],["2020-03-02",152.45],["2020-03-08",152.55],["2020-03-14",152.3],["2020-03-19",152.42],["2020-03-24",152.25],["2020-03-30",152.38],["2020-04-05",152.2],["2020-04-10",152.35],["2020-04-14",152.4],["2020-04-19",152.3],["2020-04-24",152.55],["2020-04-29",152.5],["2020-05-04",152.75],["2020-05-09",152.65],["2020-05-14",152.94],["2020-05-19",152.85],["2020-05-24",153.15],["2020-05-29",153.05],["2020-06-02",153.25],["2020-06-07",153.2],["2020-06-11",153.42],["2020-06-16",153.3],["2020-06-22",153.5],["2020-06-27",153.4],["2020-07-01",153.6],["2020-07-05",153.5],["2020-07-09",153.66],["2020-07-15",153.55],["2020-07-20",153.65],["2020-07-27",153.6],["2020-08-02",153.75],["2020-08-06",153.62],["2020-08-12",153.72],["2020-08-20",153.66],["2020-08-27",153.8],["2020-09-03",153.68],["2020-09-09",153.76],["2020-09-16",153.62],["2020-09-22",153.7],["2020-09-29",153.55],["2020-10-07",153.6],["2020-10-14",153.45],["2020-10-20",153.55],["2020-10-27",153.4],["2020-11-02",153.48],["2020-11-09",153.36],["2020-11-16",153.42],["2020-11-25",153.28],["2020-12-03",153.35],["2020-12-13",153.2],["2020-12-20",153.3],["2020-12-28",153.15],["2021-01-06",153.25],["2021-01-15",153.12],["2021-01-22",153.18],["2021-02-01",153.05],["2021-02-09",153.15],["2021-02-18",153.02],["2021-02-25",153.1],["2021-03-05",152.95],["2021-03-12",153.05],["2021-03-18",152.88],["2021-03-25",153.0],["2021-04-01",152.9],["2021-04-08",153.02],["2021-04-15",152.88],["2021-04-22",153.0],["2021-04-28",152.95],["2021-05-06",153.1],["2021-05-13",153.02],["2021-05-20",153.18],["2021-05-28",153.15],["2021-06-04",153.32],["2021-06-10",153.3],["2021-06-16",153.5],["2021-06-21",153.42],["2021-06-28",153.6],["2021-07-04",153.55],["2021-07-10",153.7],["2021-07-17",153.62],["2021-07-25",153.75],["2021-08-01",153.7],["2021-08-08",153.88],["2021-08-16",153.82],["2021-08-27",153.95],["2021-09-05",153.98],["2021-09-12",154.1],["2021-09-18",154.05],["2021-09-26",154.18],["2021-10-04",154.1],["2021-10-11",154.2],["2021-10-18",154.12],["2021-10-25",154.15],["2021-11-01",154.05],["2021-11-08",154.1],["2021-11-15",153.95],["2021-11-22",154.0],["2021-11-29",153.85],["2021-12-06",153.9],["2021-12-13",153.72],["2021-12-20",153.78],["2021-12-27",153.62],["2022-01-03",153.68],["2022-01-10",153.52],["2022-01-17",153.58],["2022-01-24",153.4],["2022-01-31",153.45],["2022-02-07",153.32],["2022-02-14",153.4],["2022-02-21",153.25],["2022-02-28",153.32],["2022-03-07",153.15],["2022-03-14",153.22],["2022-03-20",153.05],["2022-03-25",153.1],["2022-04-01",153.25],["2022-04-08",153.15],["2022-04-14",153.28],["2022-04-20",153.12],["2022-04-26",153.25],["2022-05-01",153.18],["2022-05-07",153.32],["2022-05-12",153.25],["2022-05-18",153.4],["2022-05-23",153.35],["2022-05-30",153.55],["2022-06-06",153.62],["2022-06-13",153.75],["2022-06-20",153.72],["2022-06-27",153.85],["2022-07-06",153.9]
];

// ---------- CHART ----------
const parse = d3.utcParse("%Y-%m-%d");
const svg = d3.select("#chart");
const P = {left:149, right:1672.5, top:20, bottom:1054};
const COLORS = {gwe:"#5B9BD5", manual:"#ED7D31", cond:"#A5A5A5"};
const SANS = "'Liberation Sans', Arial, sans-serif";
const TICKFONT = "'DejaVu Sans', Verdana, sans-serif";

const x = d3.scaleUtc().domain([parse(xTickDates[0]), parse(xTickDates[xTickDates.length-1])]).range([P.left, P.right]);
const yL = d3.scaleLinear().domain([3596,3610]).range([P.bottom, P.top]);
const yR = d3.scaleLinear().domain([120,160]).range([P.bottom, P.top]);

svg.append("defs").append("clipPath").attr("id","plotclip")
  .append("rect").attr("x",P.left).attr("y",P.top).attr("width",P.right-P.left).attr("height",P.bottom-P.top);

// gridlines
svg.append("g").selectAll("line").data(leftTicks.slice(1,-1)).join("line")
  .attr("x1",P.left).attr("x2",P.right).attr("y1",d=>yL(d)).attr("y2",d=>yL(d))
  .attr("stroke","#000").attr("stroke-width",1.6);

// series
const plotG = svg.append("g").attr("clip-path","url(#plotclip)");
const lineL = d3.line().x(d=>x(parse(d[0]))).y(d=>yL(d[1]));
const lineR = d3.line().x(d=>x(parse(d[0]))).y(d=>yR(d[1]));

[condBlock1, condBlock2].forEach(b=>{
  plotG.append("path").datum(b).attr("d",lineR).attr("fill","none")
    .attr("stroke",COLORS.cond).attr("stroke-width",9).attr("stroke-linejoin","round").attr("stroke-linecap","round");
});
[gweBlock1, gweBlock2].forEach(b=>{
  plotG.append("path").datum(b).attr("d",lineL).attr("fill","none")
    .attr("stroke",COLORS.gwe).attr("stroke-width",5.5).attr("stroke-linejoin","round").attr("stroke-linecap","round");
});
plotG.append("g").selectAll("circle").data(manualDates.map((d,i)=>[d,manualValues[i]])).join("circle")
  .attr("cx",d=>x(parse(d[0]))).attr("cy",d=>yL(d[1])).attr("r",7.4).attr("fill",COLORS.manual);

// frame
svg.append("rect").attr("x",P.left).attr("y",P.top).attr("width",P.right-P.left).attr("height",P.bottom-P.top)
  .attr("fill","none").attr("stroke","#000").attr("stroke-width",2.2);

// x axis
const xAxis = d3.axisBottom(x).tickValues(xTickDates.map(parse)).tickFormat((d,i)=>xTickLabels[i]).tickSize(8).tickSizeOuter(0);
const gx = svg.append("g").attr("transform",`translate(0,${P.bottom})`).call(xAxis);
gx.select(".domain").attr("stroke","#000").attr("stroke-width",2.5);
gx.selectAll(".tick line").attr("stroke","#000").attr("stroke-width",1.5);
gx.selectAll(".tick text").attr("fill","#000").style("font-family",TICKFONT).style("font-size","19px")
  .attr("text-anchor","start").attr("dy",null).attr("y",null)
  .attr("transform","translate(-8,31) rotate(45)");

// left axis
const yAxisL = d3.axisLeft(yL).tickValues(leftTicks).tickFormat(d3.format(".2f")).tickSize(0).tickPadding(23);
const gl = svg.append("g").attr("transform",`translate(${P.left},0)`).call(yAxisL);
gl.select(".domain").attr("stroke","#000").attr("stroke-width",2.5);
gl.selectAll(".tick text").attr("fill","#595959").style("font-family",TICKFONT).style("font-size","17px")
  .attr("textLength",77).attr("lengthAdjust","spacingAndGlyphs");

// right axis
const yAxisR = d3.axisRight(yR).tickValues(rightTicks).tickFormat(d3.format("d")).tickSize(0).tickPadding(22);
const gr = svg.append("g").attr("transform",`translate(${P.right},0)`).call(yAxisR);
gr.select(".domain").attr("stroke","#000").attr("stroke-width",2.5);
gr.selectAll(".tick text").attr("fill","#595959").style("font-family",TICKFONT).style("font-size","17px")
  .attr("textLength",38).attr("lengthAdjust","spacingAndGlyphs");

// axis titles
svg.append("text").attr("transform","translate(33,536) rotate(-90)").attr("text-anchor","middle")
  .style("font-family",SANS).style("font-size","26px").style("white-space","pre")
  .attr("textLength",292).attr("lengthAdjust","spacingAndGlyphs")
  .attr("fill","#000").text("Calculated GWE  (ft. AMSL)");
svg.append("text").attr("transform","translate(1757,561) rotate(90)").attr("text-anchor","middle")
  .style("font-family",SANS).style("font-size","26px")
  .attr("textLength",250).attr("lengthAdjust","spacingAndGlyphs")
  .attr("fill","#000").text("Conductivity (µs/cm)");

// legend
const lg = svg.append("g");
lg.append("rect").attr("x",172).attr("y",850).attr("width",580).attr("height",131)
  .attr("fill","#fff").attr("stroke","#000").attr("stroke-width",1.5);
const legY = [872,916,959];
lg.append("line").attr("x1",204).attr("x2",254).attr("y1",legY[0]).attr("y2",legY[0])
  .attr("stroke",COLORS.gwe).attr("stroke-width",5).attr("stroke-linecap","round");
lg.append("circle").attr("cx",229).attr("cy",legY[1]).attr("r",7.4).attr("fill",COLORS.manual);
lg.append("line").attr("x1",204).attr("x2",254).attr("y1",legY[2]).attr("y2",legY[2])
  .attr("stroke",COLORS.cond).attr("stroke-width",6).attr("stroke-linecap","round");
seriesNames.forEach((n,i)=>{
  lg.append("text").attr("x",260).attr("y",legY[i]).attr("dy","0.35em")
    .style("font-family","'Open Sans', sans-serif").style("font-size","21px").attr("fill","#595959").text(n);
});
</script>
</body></html>
